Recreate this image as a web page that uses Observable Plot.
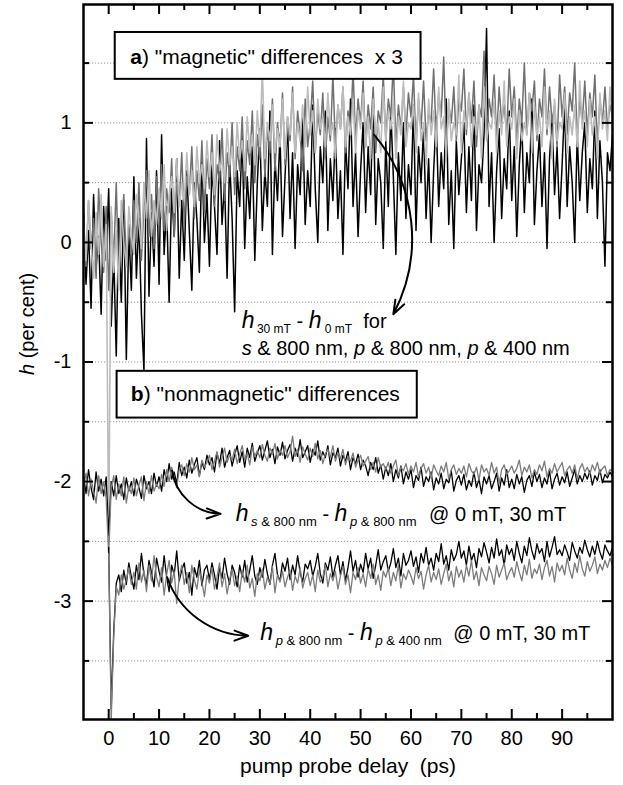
<!DOCTYPE html>
<html><head><meta charset="utf-8">
<script src="https://cdn.jsdelivr.net/npm/d3@7"></script>
<script src="https://cdn.jsdelivr.net/npm/@observablehq/plot@0.6"></script>
<style>body{margin:0;background:#fff} svg text{white-space:pre}</style>
</head><body><div id="chart"></div><script>
// time grids (ps)
const tStartA = -5, tStartB = 0, tStep = 0.5;
// a) magnetic differences x3 (per cent)
const magS800 = [0.25,-0.35,0.1,-0.55,0.4,-0.2,0.05,-0.6,0.3,-0.15,
0.45,-0.7,-0.1,-0.95,0.2,-0.5,0.35,-0.98,0.1,-0.4,
0.55,-0.3,0.2,-0.6,-1.07,0.87,-0.45,0.25,-0.2,0.6,
-0.35,0.9,-0.1,0.3,-0.5,0.45,0.05,0.7,-0.3,0.35,
-0.15,0.6,0.1,-0.4,0.5,0.2,-0.25,0.75,0.0,0.4,
-0.2,0.65,0.3,-0.1,0.85,0.15,0.5,-0.3,0.7,0.2,
-0.58,0.6,0.3,0.9,-0.05,0.55,0.2,0.8,-0.15,0.5,
0.95,0.1,0.6,0.3,1.1,-0.1,0.7,0.35,0.9,0.05,
0.55,1.0,0.2,0.75,-0.05,0.65,0.4,1.05,0.15,0.6,
0.3,1.15,0.45,0.0,0.8,0.5,1.1,0.1,0.7,0.35,
0.95,0.2,0.6,-0.1,0.85,0.45,1.2,0.3,0.75,0.05,
0.6,1.0,0.25,0.8,0.4,1.25,0.15,0.7,0.5,-0.05,
0.85,0.3,1.1,0.55,-0.1,0.75,0.35,1.0,0.2,0.65,
0.4,1.15,0.1,0.8,0.5,0.95,0.2,0.7,0.0,0.6,
1.05,0.3,0.75,0.45,1.2,0.15,0.6,-0.05,0.85,0.4,
0.7,1.0,0.25,0.8,0.35,1.15,0.1,0.65,0.5,0.9,
1.79,0.3,0.75,0.0,0.6,0.95,0.2,0.7,0.45,1.1,
0.35,0.8,0.05,0.65,1.0,0.25,0.75,0.5,1.2,0.15,
0.6,0.9,0.3,0.75,-0.05,0.7,1.05,0.4,0.8,0.2,
0.65,1.15,0.3,0.8,0.5,0.0,0.9,0.35,0.75,1.0,
0.25,0.7,0.45,1.1,0.2,0.85,0.5,-0.2,0.75,0.6,
0.9];
const magP800 = [0.1,-0.2,0.35,-0.05,0.2,-0.3,0.45,0.0,-0.25,0.3,
-0.4,0.25,-0.15,0.5,-0.3,0.1,0.4,-0.2,0.15,-0.1,
0.35,0.0,0.5,-0.15,0.3,0.6,0.05,0.4,-0.05,0.55,
0.2,0.65,0.1,0.45,0.25,0.7,0.05,0.5,0.3,0.75,
0.15,0.55,0.4,0.8,0.2,0.6,0.35,0.85,0.25,0.7,
0.45,0.9,0.3,0.65,0.5,0.95,0.35,0.75,0.55,1.0,
0.4,0.8,0.6,1.05,0.45,0.85,0.65,1.1,0.5,0.9,
0.7,1.15,0.55,0.95,0.75,1.2,0.6,1.0,0.8,1.25,
0.65,1.05,0.85,1.3,0.7,1.1,0.9,0.6,1.2,0.8,
1.0,1.35,0.75,1.1,0.9,1.25,0.7,1.05,0.85,1.4,
0.8,1.15,0.95,1.3,0.75,1.1,0.9,1.45,0.85,1.2,
1.0,1.35,0.8,1.15,0.95,1.3,0.75,1.1,1.0,1.4,
0.85,1.2,1.05,1.5,0.8,1.15,0.95,1.3,0.9,1.25,
1.05,1.4,0.8,1.2,0.95,1.35,0.85,1.1,1.0,1.45,
0.9,1.25,1.05,1.55,0.8,1.15,1.0,1.3,0.85,1.2,
1.1,1.45,0.9,1.25,1.0,1.35,0.8,1.15,1.05,1.6,
0.9,1.2,1.05,1.4,0.85,1.3,1.0,1.15,0.9,1.45,
1.05,1.3,0.85,1.2,1.0,1.5,0.9,1.25,1.1,1.35,
0.85,1.2,1.05,1.45,0.9,1.3,1.0,1.15,0.8,1.4,
1.05,1.3,0.9,1.25,1.1,1.5,0.85,1.2,1.0,1.35,
0.9,1.25,1.05,1.4,0.8,1.2,1.0,1.3,0.95,1.15,
1.05];
const magP400 = [0.2,-0.15,0.35,0.0,-0.3,0.25,-0.1,0.4,-0.2,0.15,
-2.5,0.3,-0.25,0.1,-0.4,0.35,0.0,-0.2,0.3,0.05,
-0.1,0.4,0.15,-0.05,0.5,0.2,0.6,0.05,0.35,0.15,
0.45,0.2,0.65,0.1,0.4,0.55,0.25,0.7,0.3,0.5,
0.35,0.75,0.4,0.6,0.3,0.8,0.5,0.65,0.45,0.85,
0.55,0.75,0.4,0.9,0.6,0.7,0.5,0.95,0.65,0.8,
0.55,1.0,0.7,0.85,0.6,1.05,0.75,0.9,0.65,1.1,
0.8,1.45,0.7,1.0,0.85,1.15,0.75,0.95,0.8,1.2,
0.7,1.05,0.9,1.25,0.75,1.0,0.85,1.15,0.8,1.3,
0.9,1.1,0.75,1.2,0.95,1.05,0.8,1.25,0.9,1.0,
0.7,1.15,0.95,1.3,0.8,1.05,0.9,1.2,0.75,1.1,
0.95,1.25,0.8,1.05,0.7,1.2,0.9,1.0,0.75,1.3,
0.85,1.1,0.95,1.2,0.7,1.05,0.9,1.35,0.8,1.0,
0.95,1.15,0.75,1.25,0.85,1.0,0.65,1.2,0.9,1.1,
0.8,1.3,0.95,1.05,0.7,1.2,0.85,1.0,0.9,1.4,
0.75,1.1,0.95,1.25,0.8,1.05,0.9,1.15,0.7,1.3,
0.85,1.0,0.95,1.2,0.75,1.1,0.9,1.35,0.8,1.05,
0.95,1.2,0.7,1.1,0.85,1.0,0.9,1.25,0.75,1.15,
0.9,1.05,0.8,1.3,0.95,1.1,0.7,1.2,0.85,1.0,
0.95,1.25,0.75,1.05,0.9,1.15,0.8,1.35,0.95,1.1,
0.8,1.2,0.9,1.05,0.7,1.25,0.95,1.1,0.85,1.3,
1.0];
// b) nonmagnetic differences: h(s&800) - h(p&800)
const sp0mT = [-1.95,-2.1,-1.9,-2.05,-2.15,-1.92,-2.08,-1.98,-2.12,-1.96,
-2.45,-2.0,-2.12,-1.95,-2.1,-2.02,-2.15,-1.97,-2.08,-2.0,
-2.12,-1.98,-2.05,-2.14,-1.95,-2.06,-2.0,-2.1,-1.93,-2.04,
-1.96,-2.08,-1.9,-2.0,-1.85,-1.98,-1.92,-2.02,-1.84,-1.95,
-1.88,-1.97,-1.82,-1.93,-1.86,-1.8,-1.95,-1.84,-1.9,-1.78,
-1.86,-1.8,-1.92,-1.76,-1.85,-1.72,-1.88,-1.8,-1.74,-1.87,
-1.78,-1.7,-1.84,-1.75,-1.88,-1.72,-1.8,-1.68,-1.83,-1.76,
-1.7,-1.82,-1.74,-1.66,-1.8,-1.73,-1.85,-1.71,-1.78,-1.67,
-1.81,-1.74,-1.69,-1.83,-1.72,-1.79,-1.65,-1.8,-1.75,-1.7,
-1.84,-1.73,-1.78,-1.66,-1.82,-1.75,-1.8,-1.7,-1.86,-1.76,
-1.8,-1.72,-1.87,-1.78,-1.83,-1.75,-1.9,-1.8,-1.85,-1.77,
-1.9,-1.82,-1.87,-1.95,-1.84,-1.9,-1.8,-1.93,-1.86,-1.98,
-1.88,-1.95,-1.85,-2.0,-1.9,-1.97,-1.87,-2.02,-1.92,-1.98,
-1.9,-2.05,-1.95,-1.99,-1.88,-2.04,-1.96,-2.0,-1.92,-2.07,
-1.97,-2.02,-1.93,-2.06,-1.98,-2.01,-1.91,-2.08,-1.99,-1.95,
-2.03,-1.94,-2.07,-1.99,-2.04,-1.92,-2.05,-1.98,-2.1,-1.96,
-2.02,-1.95,-2.06,-2.0,-1.93,-2.08,-1.97,-2.03,-1.9,-2.05,
-1.98,-2.06,-1.94,-2.02,-1.96,-2.09,-1.99,-1.95,-2.04,-1.92,
-2.0,-1.94,-2.05,-1.97,-2.02,-1.91,-2.06,-1.98,-1.93,-2.03,
-1.96,-2.01,-1.92,-2.04,-1.97,-1.9,-2.02,-1.95,-2.0,-1.93,
-1.98,-1.91,-2.03,-1.95,-1.99,-1.9,-2.01,-1.94,-1.97,-1.92,
-1.96];
const sp30mT = [-2.05,-1.93,-2.12,-1.98,-2.08,-2.18,-1.95,-2.1,-2.0,-2.14,
-2.62,-2.05,-1.95,-2.15,-2.02,-2.12,-1.96,-2.18,-2.04,-2.1,
-1.97,-2.12,-2.03,-1.96,-2.16,-2.0,-2.1,-1.95,-2.08,-2.02,
-2.06,-1.94,-2.04,-1.9,-2.0,-1.88,-1.97,-2.05,-1.9,-1.86,
-1.95,-1.85,-1.92,-1.8,-1.9,-1.86,-1.96,-1.82,-1.88,-1.84,
-1.78,-1.9,-1.83,-1.75,-1.88,-1.8,-1.72,-1.84,-1.78,-1.82,
-1.73,-1.85,-1.77,-1.7,-1.82,-1.76,-1.86,-1.71,-1.79,-1.74,
-1.8,-1.69,-1.78,-1.83,-1.72,-1.77,-1.68,-1.81,-1.74,-1.78,
-1.7,-1.8,-1.75,-1.62,-1.79,-1.73,-1.84,-1.71,-1.77,-1.82,
-1.72,-1.79,-1.68,-1.81,-1.74,-1.85,-1.77,-1.73,-1.8,-1.7,
-1.83,-1.76,-1.81,-1.73,-1.86,-1.79,-1.83,-1.76,-1.88,-1.82,
-1.78,-1.87,-1.83,-1.79,-1.9,-1.84,-1.92,-1.8,-1.88,-1.85,
-1.9,-1.84,-1.93,-1.87,-1.82,-1.95,-1.88,-1.91,-1.85,-1.94,
-1.87,-1.92,-1.84,-1.96,-1.89,-1.85,-1.93,-1.88,-1.97,-1.86,
-1.91,-1.95,-1.87,-1.92,-1.84,-1.98,-1.9,-1.86,-1.94,-1.89,
-1.93,-1.87,-1.96,-1.85,-1.91,-1.94,-1.88,-1.99,-1.86,-1.92,
-1.89,-1.95,-1.84,-1.93,-1.88,-2.02,-1.9,-1.86,-1.94,-1.91,
-1.87,-1.93,-1.89,-1.82,-1.95,-1.88,-1.92,-1.86,-1.97,-1.9,
-1.94,-1.86,-1.91,-1.83,-1.96,-1.89,-1.93,-1.85,-1.92,-1.88,
-1.84,-1.95,-1.9,-1.87,-1.93,-1.86,-1.98,-1.89,-1.85,-1.92,
-1.88,-1.94,-1.86,-1.91,-1.84,-1.93,-1.89,-1.87,-1.95,-1.9,
-1.91];
// b) h(p&800) - h(p&400), from t = 0
const pp0mT = [-2.55,-3.9,-3.25,-2.85,-2.78,-2.92,-2.74,-2.86,-2.68,-2.8,
-2.9,-2.7,-2.82,-2.6,-2.78,-2.86,-2.66,-2.76,-2.88,-2.64,
-2.75,-2.84,-2.62,-2.8,-2.92,-2.7,-2.78,-2.58,-2.83,-2.74,
-2.68,-2.85,-2.76,-2.95,-2.72,-2.8,-2.66,-2.87,-2.74,-2.7,
-2.82,-2.68,-2.78,-2.9,-2.72,-2.81,-2.64,-2.77,-2.86,-2.7,
-2.76,-2.88,-2.7,-2.8,-2.66,-2.84,-2.74,-2.62,-2.79,-2.86,
-2.72,-2.8,-2.65,-2.77,-2.86,-2.7,-2.6,-2.78,-2.83,-2.68,
-2.75,-2.64,-2.82,-2.7,-2.78,-2.62,-2.76,-2.84,-2.69,-2.73,
-2.66,-2.79,-2.71,-2.6,-2.77,-2.85,-2.68,-2.74,-2.63,-2.8,
-2.7,-2.62,-2.78,-2.67,-2.83,-2.72,-2.58,-2.75,-2.66,-2.8,
-2.69,-2.76,-2.6,-2.73,-2.64,-2.81,-2.7,-2.57,-2.74,-2.67,
-2.62,-2.75,-2.68,-2.56,-2.72,-2.64,-2.79,-2.6,-2.7,-2.66,
-2.58,-2.71,-2.63,-2.76,-2.6,-2.68,-2.55,-2.7,-2.64,-2.74,
-2.6,-2.67,-2.52,-2.69,-2.62,-2.74,-2.57,-2.66,-2.61,-2.5,
-2.64,-2.58,-2.7,-2.54,-2.66,-2.6,-2.72,-2.56,-2.63,-2.51,
-2.59,-2.68,-2.55,-2.64,-2.48,-2.62,-2.57,-2.7,-2.53,-2.61,
-2.56,-2.66,-2.5,-2.6,-2.68,-2.54,-2.62,-2.47,-2.58,-2.65,
-2.52,-2.6,-2.56,-2.67,-2.5,-2.63,-2.55,-2.46,-2.61,-2.57,
-2.62,-2.53,-2.59,-2.66,-2.51,-2.58,-2.64,-2.55,-2.6,-2.49,
-2.57,-2.63,-2.54,-2.61,-2.5,-2.59,-2.65,-2.53,-2.58,-2.62,
-2.55];
const pp30mT = [-2.6,-4.0,-3.3,-2.88,-2.95,-2.78,-2.9,-2.82,-2.72,-2.86,
-2.76,-2.9,-2.68,-2.84,-2.74,-2.92,-2.7,-2.83,-2.62,-2.8,
-2.88,-2.72,-2.95,-2.78,-2.66,-2.85,-2.75,-3.02,-2.8,-2.7,
-2.86,-2.76,-2.93,-2.7,-2.82,-2.9,-2.74,-2.84,-2.96,-2.78,
-2.85,-2.72,-2.9,-2.8,-2.68,-2.88,-2.77,-2.94,-2.82,-2.73,
-2.87,-2.79,-2.92,-2.75,-2.84,-2.7,-2.89,-2.81,-2.96,-2.77,
-2.83,-2.73,-2.9,-2.8,-2.86,-2.71,-2.93,-2.78,-2.84,-2.75,
-2.88,-2.8,-2.74,-2.91,-2.79,-2.85,-2.72,-2.89,-2.81,-2.76,
-2.87,-2.78,-2.92,-2.74,-2.84,-2.8,-2.7,-2.88,-2.77,-2.83,
-2.75,-2.9,-2.79,-2.71,-2.86,-2.78,-2.93,-2.76,-2.82,-2.72,
-2.85,-2.77,-2.88,-2.73,-2.81,-2.69,-2.86,-2.78,-2.91,-2.75,
-2.8,-2.72,-2.87,-2.76,-2.83,-2.7,-2.89,-2.77,-2.82,-2.74,
-2.79,-2.86,-2.72,-2.81,-2.75,-2.9,-2.78,-2.7,-2.84,-2.76,
-2.82,-2.73,-2.86,-2.77,-2.69,-2.83,-2.75,-2.88,-2.71,-2.8,
-2.74,-2.84,-2.7,-2.79,-2.66,-2.82,-2.75,-2.87,-2.72,-2.78,
-2.83,-2.71,-2.77,-2.86,-2.7,-2.8,-2.74,-2.68,-2.82,-2.76,
-2.72,-2.8,-2.67,-2.76,-2.83,-2.7,-2.78,-2.65,-2.81,-2.73,
-2.77,-2.69,-2.82,-2.72,-2.66,-2.79,-2.71,-2.84,-2.68,-2.75,
-2.7,-2.78,-2.64,-2.74,-2.81,-2.68,-2.76,-2.62,-2.73,-2.79,
-2.67,-2.75,-2.7,-2.63,-2.77,-2.69,-2.74,-2.66,-2.72,-2.64,
-2.7];

// ticks and grid
const xMajor = [0,10,20,30,40,50,60,70,80,90];
const xMinor = [5,15,25,35,45,55,65,75,85,95];
const yMajor = [-3,-2,-1,0,1];
const yMinor = [-3.5,-2.5,-1.5,-0.5,0.5,1.5];
const yGrid = [-3.5,-3,-2.5,-2,-1.5,-1,-0.5,0,0.5,1,1.5];

// annotation boxes, labels, arrows (data units)
const boxes = [{x1:1.3,x2:62.0,y1:1.364,y2:1.756},{x1:1.67,x2:61.25,y1:-1.469,y2:-1.078}];
const TS = "\u2009";
const segA = [["a",{b:1}],[") \"magnetic\" differences  x 3",{}]];
const segB = [["b",{b:1}],[") \"nonmagnetic\" differences",{}]];
const segA1 = [["h",{i:1,fs:23}],[TS + "30 mT",{sub:1,fs:12}],[" - ",{}],["h",{i:1,fs:23}],[" 0 mT",{sub:1,fs:12}],["  for",{}]];
const segA2 = [["s",{i:1}],[" & 800 nm, ",{}],["p",{i:1}],[" & 800 nm, ",{}],["p",{i:1}],[" & 400 nm",{}]];
const segB1 = [["h",{i:1,fs:23}],[TS + "s",{sub:1,i:1,fs:13}],[" & 800 nm",{sub:1,fs:13}],[" - ",{}],["h",{i:1,fs:23}],[TS + "p",{sub:1,i:1,fs:13}],[" & 800 nm",{sub:1,fs:13}]];
const segB2 = [["h",{i:1,fs:23}],[TS + "p",{sub:1,i:1,fs:13}],[" & 800 nm",{sub:1,fs:13}],[" - ",{}],["h",{i:1,fs:23}],[TS + "p",{sub:1,i:1,fs:13}],[" & 400 nm",{sub:1,fs:13}]];
const segAt = [["@ 0 mT, 30 mT",{}]];
const segYL = [["h",{i:1}],[" (per cent)",{}]];
const plain = s => s.map(d => d[0]).join("");
const labels = [
  {x:4.3,y:1.548,seg:segA,fs:21},
  {x:4.4,y:-1.272,seg:segB,fs:21},
  {x:26.4,y:-0.66,seg:segA1,fs:20},
  {x:26.4,y:-0.885,seg:segA2,fs:20},
  {x:25.2,y:-2.274,seg:segB1,fs:20},
  {x:63.6,y:-2.274,seg:segAt,fs:20},
  {x:30.1,y:-3.274,seg:segB2,fs:20},
  {x:68.4,y:-3.274,seg:segAt,fs:20}
];
const arrows = [
  {x1:52.7,y1:0.90,x2:56.5,y2:-0.60,bend:34},
  {x1:12.6,y1:-1.91,x2:22.2,y2:-2.27,bend:-40},
  {x1:11.6,y1:-2.80,x2:27.7,y2:-3.29,bend:-35}
];

const series = (vals, t0) => vals.map((h, i) => ({t: t0 + i * tStep, h}));
const W = 623, H = 785, mL = 83, mR = 11, mT = 4, mB = 66;
const innerW = W - mL - mR, innerH = H - mT - mB;
const lineOpts = (stroke, sw) => ({x: "t", y: "h", stroke, strokeWidth: sw, clip: true});

const chart = Plot.plot({
  width: W, height: H, marginLeft: mL, marginRight: mR, marginTop: mT, marginBottom: mB,
  x: {domain: [-5, 100]},
  y: {domain: [-3.99, 1.99]},
  style: {fontFamily: "'Liberation Sans', Arial, Helvetica, sans-serif", fontSize: "20px", background: "#fff", color: "#000"},
  marks: [
    Plot.ruleY(yGrid, {stroke: "#777", strokeWidth: 0.8, strokeDasharray: "1.2,1.8"}),
    Plot.line(series(magS800, tStartA), lineOpts("#000", 1.5)),
    Plot.line(series(magP800, tStartA), lineOpts("#707070", 1.5)),
    Plot.line(series(magP400, tStartA), lineOpts("#bcbcbc", 1.6)),
    Plot.line(series(sp0mT, tStartA), lineOpts("#000", 1.3)),
    Plot.line(series(sp30mT, tStartA), lineOpts("#7c7c7c", 1.3)),
    Plot.line(series(pp0mT, tStartB), lineOpts("#000", 1.3)),
    Plot.line(series(pp30mT, tStartB), lineOpts("#7c7c7c", 1.3)),
    Plot.rect(boxes, {x1: "x1", x2: "x2", y1: "y1", y2: "y2", fill: "#fff", stroke: "#000", strokeWidth: 2}),
    ...labels.map(l => Plot.text([l], {x: "x", y: "y", text: d => plain(d.seg), textAnchor: "start", lineAnchor: "middle", fontSize: l.fs, fill: "#000"})),
    ...arrows.map(a => Plot.arrow([a], {x1: "x1", y1: "y1", x2: "x2", y2: "y2", bend: a.bend, stroke: "#000", strokeWidth: 2, headLength: 11, headAngle: 40})),
    Plot.tickX(xMajor, {x: d => d, insetTop: innerH - 10, strokeWidth: 2}),
    Plot.tickX(xMajor, {x: d => d, insetBottom: innerH - 10, strokeWidth: 2}),
    Plot.tickX(xMinor, {x: d => d, insetTop: innerH - 6, strokeWidth: 2}),
    Plot.tickX(xMinor, {x: d => d, insetBottom: innerH - 6, strokeWidth: 2}),
    Plot.tickY(yMajor, {y: d => d, insetRight: innerW - 10, strokeWidth: 2}),
    Plot.tickY(yMajor, {y: d => d, insetLeft: innerW - 10, strokeWidth: 2}),
    Plot.tickY(yMinor, {y: d => d, insetRight: innerW - 6, strokeWidth: 2}),
    Plot.tickY(yMinor, {y: d => d, insetLeft: innerW - 6, strokeWidth: 2}),
    Plot.frame({stroke: "#000", strokeWidth: 2.5}),
    Plot.axisX(xMajor, {anchor: "bottom", tickSize: 0, tickPadding: 11, label: null, tickFormat: d => `${d}`}),
    Plot.axisY(yMajor, {anchor: "left", tickSize: 0, tickPadding: 12, label: null, tickFormat: d => `${d}`}),
    Plot.text(["pump probe delay  (ps)"], {frameAnchor: "bottom", dy: 47, lineAnchor: "middle", fontSize: 21}),
    Plot.text([plain(segYL)], {frameAnchor: "left", rotate: -90, dx: -56, dy: 13, lineAnchor: "middle", fontSize: 20})
  ]
});
document.getElementById("chart").appendChild(chart);

// rich text: italic, bold, subscripts
function rich(seg) {
  const p = plain(seg);
  d3.select(chart).selectAll("text").filter(function() { return this.textContent === p; }).each(function() {
    const t = d3.select(this);
    t.text(null);
    let shift = 0;
    for (const [s, o] of seg) {
      const ts = t.append("tspan").text(s);
      if (o.i) ts.attr("font-style", "italic");
      if (o.b) ts.attr("font-weight", "bold");
      if (o.fs) ts.attr("font-size", o.fs);
      const target = o.sub ? 5 : 0;
      if (target !== shift) { ts.attr("dy", target - shift); shift = target; }
    }
  });
}
[segA, segB, segA1, segA2, segB1, segB2, segYL].forEach(rich);
</script></body></html>
